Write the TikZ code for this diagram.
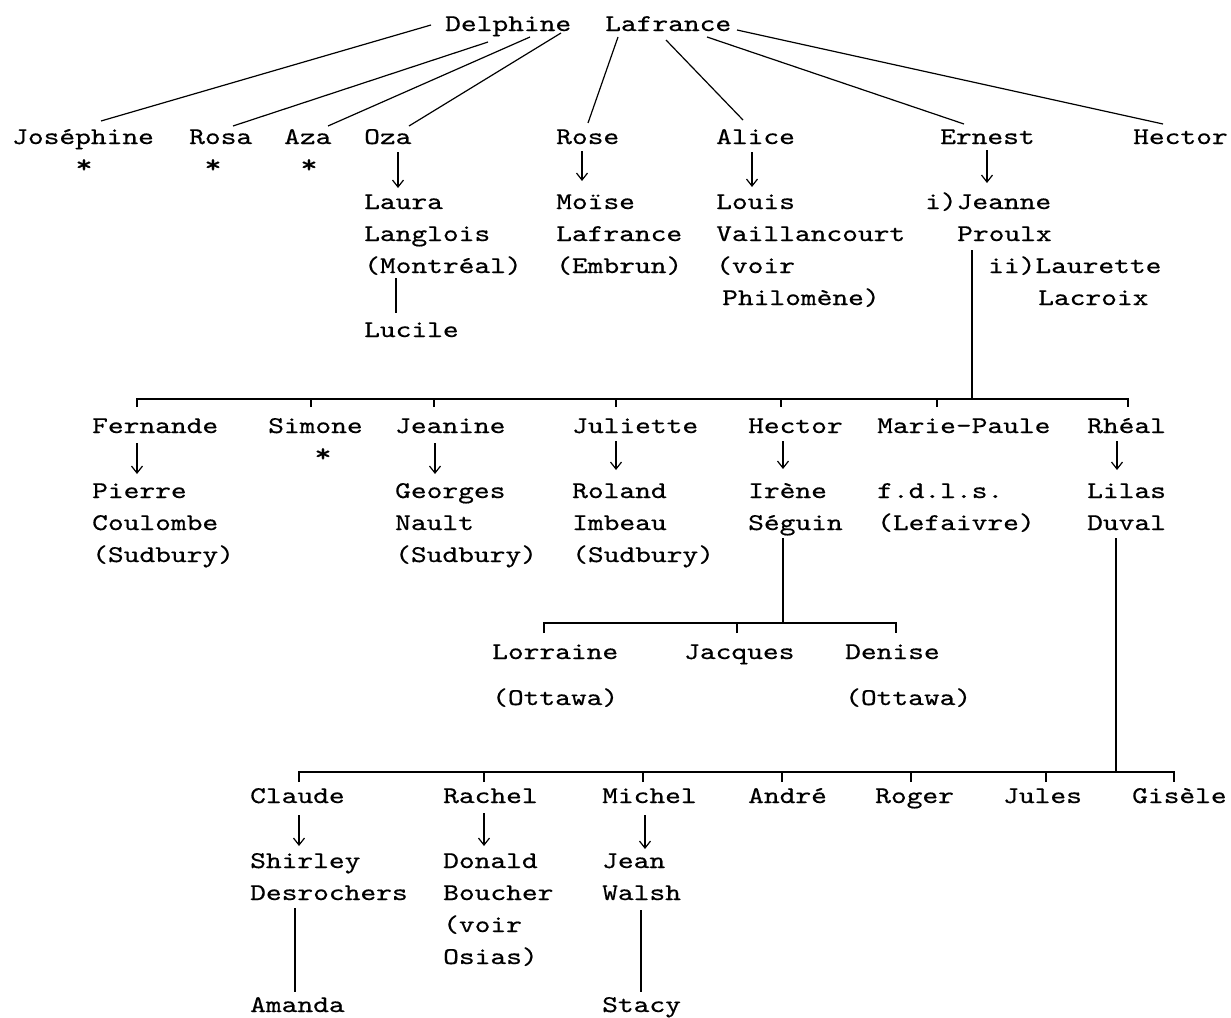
\documentclass[tikz,border=0pt]{standalone}
\usepackage{fontspec}
\newfontfamily\tw{lmmono10-regular.otf}[FakeStretch=1.25,FakeBold=0.5]
\usetikzlibrary{arrows.meta,calc}
\begin{document}
\begin{tikzpicture}[x=1pt,y=-1pt,
  nm/.style={anchor=base west,inner sep=0pt,font=\fontsize{24}{32}\selectfont\tw},
  star/.style={anchor=center,inner sep=0pt,font=\fontsize{26}{32}\selectfont\tw},
  ln/.style={line width=1.2pt},
  arr/.style={line width=1.2pt,-{Straight Barb[length=7pt,width=11pt,line width=1.2pt]}}]
\useasboundingbox[fill=white] (0,0) rectangle (1231,1017);
% top
\node[nm] (del) at (445,31) {Delphine};
\node[nm] (laf) at (605,31) {Lafrance};
% row 1
\node[nm] (jos) at (12,144) {Joséphine};
\node[nm] (rosa) at (189,144) {Rosa};
\node[nm] (aza) at (284,144) {Aza};
\node[nm] (oza) at (364,144) {Oza};
\node[nm] (rose) at (556,144) {Rose};
\node[nm] (alice) at (716,144) {Alice};
\node[nm] (ernest) at (940,144) {Ernest};
\node[nm] (hecA) at (1133,144) {Hector};
\node[star] (s1) at (84,166) {*};
\node[star] (s2) at (213,166) {*};
\node[star] (s3) at (309,166) {*};
% row 2
\node[nm] (laura) at (364,209) {Laura};
\node[nm] (langlois) at (364,241) {Langlois};
\node[nm] (montreal) at (364,273) {(Montréal)};
\node[nm] (lucile) at (364,337) {Lucile};
\node[nm] (moise) at (556,209) {Moïse};
\node[nm] (lafB) at (556,241) {Lafrance};
\node[nm] (embrun) at (556,273) {(Embrun)};
\node[nm] (louis) at (716,209) {Louis};
\node[nm] (vaill) at (716,241) {Vaillancourt};
\node[nm] (voirA) at (716,273) {(voir};
\node[nm] (philo) at (722,305) {Philomène)};
\node[nm] (jeanne) at (925,209) {i)Jeanne};
\node[nm] (proulx) at (957,241) {Proulx};
\node[nm] (laurette) at (988,273) {ii)Laurette};
\node[nm] (lacroix) at (1038,305) {Lacroix};
% row 3
\node[nm] (fern) at (92,433) {Fernande};
\node[nm] (simone) at (268,433) {Simone};
\node[nm] (jeanine) at (395,433) {Jeanine};
\node[nm] (juliette) at (572,433) {Juliette};
\node[nm] (hecB) at (748,433) {Hector};
\node[nm] (mp) at (877,433) {Marie-Paule};
\node[nm] (rheal) at (1087,433) {Rhéal};
\node[star] (s4) at (323,455) {*};
% row 4
\node[nm] (pierre) at (92,498) {Pierre};
\node[nm] (coulombe) at (92,530) {Coulombe};
\node[nm] (sudA) at (92,562) {(Sudbury)};
\node[nm] (georges) at (395,498) {Georges};
\node[nm] (nault) at (395,530) {Nault};
\node[nm] (sudB) at (395,562) {(Sudbury)};
\node[nm] (roland) at (572,498) {Roland};
\node[nm] (imbeau) at (572,530) {Imbeau};
\node[nm] (sudC) at (572,562) {(Sudbury)};
\node[nm] (irene) at (748,498) {Irène};
\node[nm] (seguin) at (748,530) {Séguin};
\node[nm] (fdls) at (877,498) {f.d.l.s.};
\node[nm] (lefaivre) at (877,530) {(Lefaivre)};
\node[nm] (lilas) at (1087,498) {Lilas};
\node[nm] (duval) at (1087,530) {Duval};
% row 5
\node[nm] (lorraine) at (492,659) {Lorraine};
\node[nm] (jacques) at (684,659) {Jacques};
\node[nm] (denise) at (845,659) {Denise};
\node[nm] (ottA) at (492,705) {(Ottawa)};
\node[nm] (ottB) at (845,705) {(Ottawa)};
% row 6
\node[nm] (claude) at (250,803) {Claude};
\node[nm] (rachel) at (443,803) {Rachel};
\node[nm] (michel) at (602,803) {Michel};
\node[nm] (andre) at (748,803) {André};
\node[nm] (roger) at (875,803) {Roger};
\node[nm] (jules) at (1003,803) {Jules};
\node[nm] (gisele) at (1132,803) {Gisèle};
% row 7
\node[nm] (shirley) at (250,868) {Shirley};
\node[nm] (desroch) at (250,900) {Desrochers};
\node[nm] (donald) at (443,868) {Donald};
\node[nm] (boucher) at (443,900) {Boucher};
\node[nm] (voirB) at (443,932) {(voir};
\node[nm] (osias) at (443,964) {Osias)};
\node[nm] (jean) at (602,868) {Jean};
\node[nm] (walsh) at (602,900) {Walsh};
\node[nm] (amanda) at (250,1012) {Amanda};
\node[nm] (stacy) at (602,1012) {Stacy};

% top connectors
\draw[ln] ($(del.base west)+(-14,-6)$) -- ($(jos.base west)+(89,-23)$);
\draw[ln] ($(del.base west)+(43,11)$) -- ($(rosa.base west)+(44,-18)$);
\draw[ln] ($(del.base west)+(85,6)$) -- ($(aza.base west)+(44,-18)$);
\draw[ln] ($(del.base west)+(116,2)$) -- ($(oza.base west)+(45,-18)$);
\draw[ln] ($(laf.base west)+(13,6)$) -- ($(rose.base west)+(32,-21)$);
\draw[ln] ($(laf.base west)+(61,9)$) -- ($(alice.base west)+(27,-24)$);
\draw[ln] ($(laf.base west)+(102,6)$) -- ($(ernest.base west)+(24,-20)$);
\draw[ln] ($(laf.base west)+(132,-1)$) -- ($(hecA.base west)+(30,-20)$);
% spouse arrows
\draw[arr] ($(oza.base west)+(34,8)$) -- ($(laura.base west)+(34,-21)$);
\draw[arr] ($(rose.base west)+(26,7)$) -- ($(moise.base west)+(26,-28)$);
\draw[arr] ($(alice.base west)+(36,8)$) -- ($(louis.base west)+(36,-22)$);
\draw[arr] ($(ernest.base west)+(47,6)$) -- ($(jeanne.base west)+(62,-26)$);
\draw[arr] ($(fern.base west)+(45,10)$) -- ($(pierre.base west)+(45,-24)$);
\draw[arr] ($(jeanine.base west)+(40,10)$) -- ($(georges.base west)+(40,-24)$);
\draw[arr] ($(juliette.base west)+(44,8)$) -- ($(roland.base west)+(44,-28)$);
\draw[arr] ($(hecB.base west)+(35,8)$) -- ($(irene.base west)+(35,-29)$);
\draw[arr] ($(rheal.base west)+(30,8)$) -- ($(lilas.base west)+(30,-28)$);
\draw[arr] ($(claude.base west)+(49,12)$) -- ($(shirley.base west)+(49,-22)$);
\draw[arr] ($(rachel.base west)+(41,10)$) -- ($(donald.base west)+(41,-22)$);
\draw[arr] ($(michel.base west)+(43,12)$) -- ($(jean.base west)+(43,-19)$);
% descent lines
\draw[ln] ($(montreal.base west)+(32,5)$) -- ($(lucile.base west)+(32,-24)$);
\draw[ln] ($(desroch.base west)+(45,8)$) -- ($(amanda.base west)+(45,-20)$);
\draw[ln] ($(walsh.base west)+(39,10)$) -- ($(stacy.base west)+(39,-20)$);
% Ernest's children
\coordinate (busA) at ($(proulx.base west)+(15,158)$);
\draw[ln] ($(proulx.base west)+(15,9)$) -- (busA);
\draw[ln] ($(fern.base west)+(45,-26)$) |- ($(rheal.base west)+(41,-34)$) -- ($(rheal.base west)+(41,-26)$);
\draw[ln] ($(simone.base west)+(43,-26)$) -- ++(0,-8);
\draw[ln] ($(jeanine.base west)+(39,-26)$) -- ++(0,-8);
\draw[ln] ($(juliette.base west)+(44,-26)$) -- ++(0,-8);
\draw[ln] ($(hecB.base west)+(33,-26)$) -- ++(0,-8);
\draw[ln] ($(mp.base west)+(60,-26)$) -- ++(0,-8);
% Hector's children
\coordinate (busB) at ($(seguin.base west)+(35,93)$);
\draw[ln] ($(seguin.base west)+(35,8)$) -- (busB);
\draw[ln] ($(lorraine.base west)+(52,-26)$) |- ($(denise.base west)+(51,-36)$) -- ($(denise.base west)+(51,-26)$);
\draw[ln] ($(jacques.base west)+(53,-26)$) -- ++(0,-10);
% Rheal's children
\coordinate (busC) at ($(duval.base west)+(29,242)$);
\draw[ln] ($(duval.base west)+(29,8)$) -- (busC);
\draw[ln] ($(claude.base west)+(49,-21)$) |- ($(gisele.base west)+(42,-31)$) -- ($(gisele.base west)+(42,-21)$);
\draw[ln] ($(rachel.base west)+(41,-21)$) -- ++(0,-10);
\draw[ln] ($(michel.base west)+(41,-21)$) -- ++(0,-10);
\draw[ln] ($(andre.base west)+(34,-21)$) -- ++(0,-10);
\draw[ln] ($(roger.base west)+(36,-21)$) -- ++(0,-10);
\draw[ln] ($(jules.base west)+(43,-21)$) -- ++(0,-10);
\end{tikzpicture}
\end{document}
